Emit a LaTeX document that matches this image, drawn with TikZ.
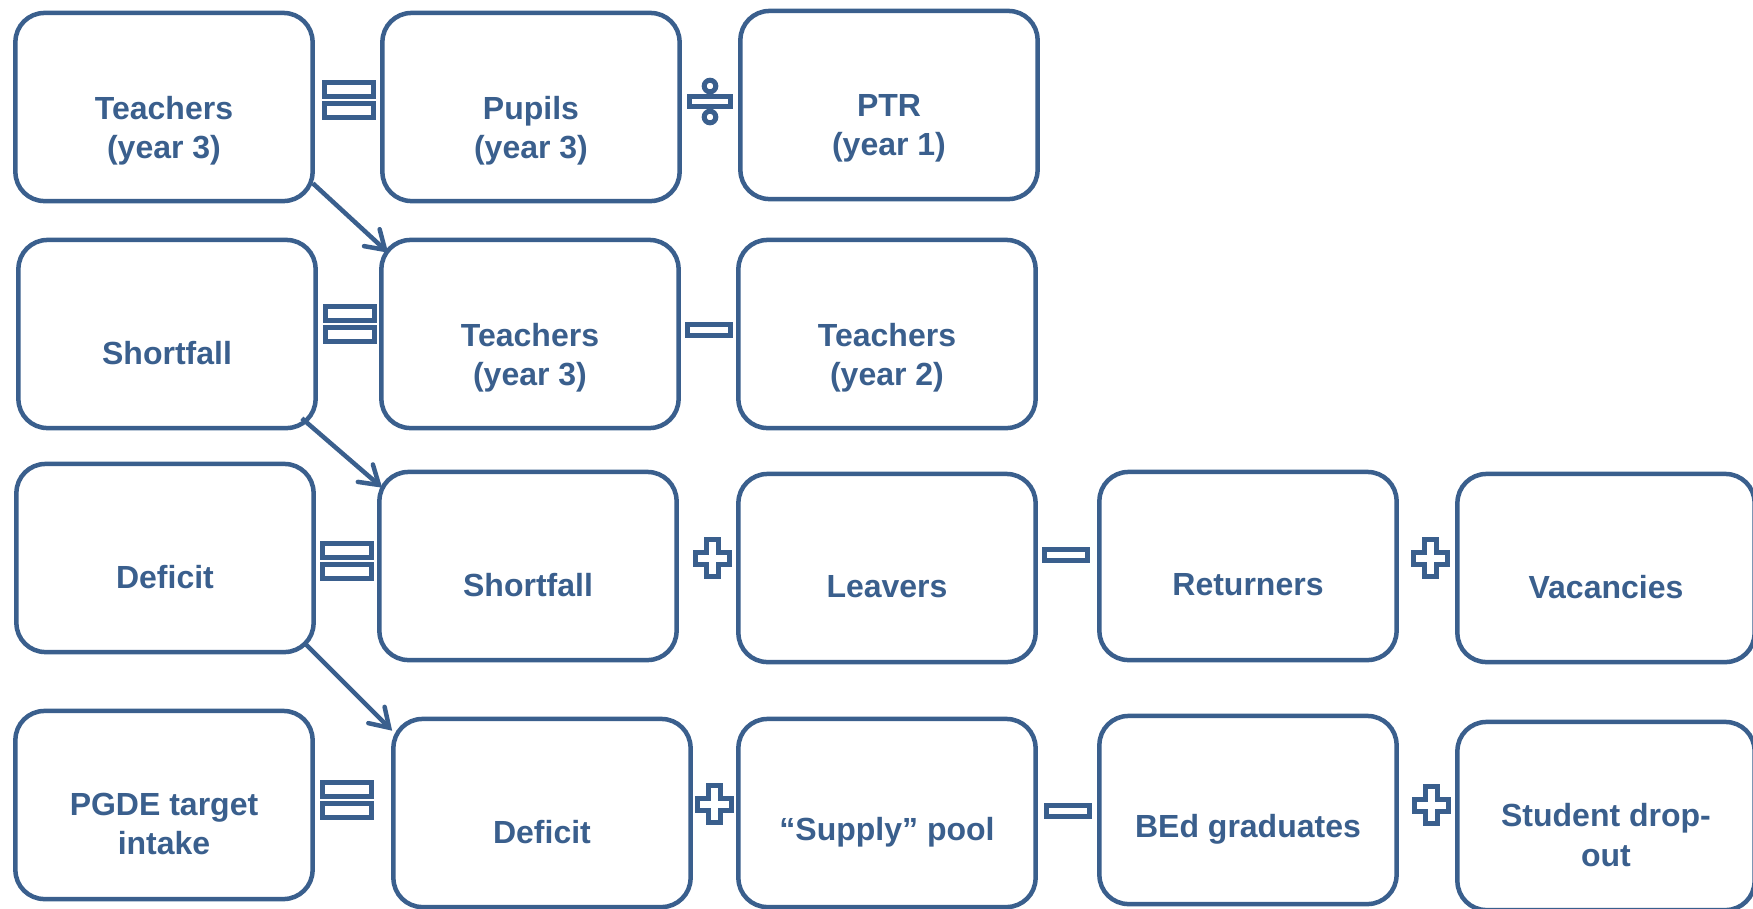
\documentclass[tikz,border=0pt]{standalone}
\usepackage{fontspec}
\setmainfont{Liberation Sans}
\usetikzlibrary{arrows.meta,calc}
\definecolor{bcol}{HTML}{3A5F8D}
\tikzset{
  box/.style={draw=bcol, fill=white, line width=0.045cm, rounded corners=0.29cm,
    minimum width=2.97cm, minimum height=1.88cm, inner sep=0pt},
  txt/.style={text=bcol, align=center, yshift=-0.19cm,
    font=\bfseries\fontsize{9.1}{11.2}\selectfont},
  low/.style={yshift=-0.045cm},
  op/.style={draw=bcol, fill=white, line width=0.05cm},
  arr/.style={draw=bcol, line width=0.045cm,
    -{Straight Barb[length=1.8mm,width=2.3mm,line cap=round]}},
  pics/eqop/.style={code={
    \draw[op] (-24.5,-17.5) rectangle (24.5,-3.5);
    \draw[op] (-24.5,3.5) rectangle (24.5,17.5);}},
  pics/minusop/.style={code={
    \draw[op] (-21.5,-5.5) rectangle (21.5,5.5);}},
  pics/plusop/.style={code={
    \draw[op] (-6,-18.5) -- (6,-18.5) -- (6,-6) -- (17,-6) -- (17,6) -- (6,6) -- (6,18.5)
      -- (-6,18.5) -- (-6,6) -- (-17,6) -- (-17,-6) -- (-6,-6) -- cycle;}},
  pics/divop/.style={code={
    \draw[op] (0,-15) circle[radius=5.8];
    \draw[op] (0,16) circle[radius=5.8];
    \draw[op] (-20.5,-5) rectangle (20.5,5);}}
}
\begin{document}
\begin{tikzpicture}[x=0.01cm, y=-0.01cm]
  \useasboundingbox (0,0) rectangle (1753,908);

  % teachers needed
  \node[box, label={[txt,low,name=A1t]center:{Teachers\\(year 3)}}] (A1) at (164,107) {};
  \node[box, label={[txt,low,name=A2t]center:{Pupils\\(year 3)}}] (A2) at (531,107) {};
  \node[box, label={[txt,low,name=A3t]center:{PTR\\(year 1)}}] (A3) at (889,105) {};
  \pic at (349,100) {eqop};
  \pic at (710,101) {divop};

  % shortfall
  \node[box, label={[txt,name=B1t]center:{Shortfall}}] (B1) at (167,334) {};
  \node[box, label={[txt,low,name=B2t]center:{Teachers\\(year 3)}}] (B2) at (530,334) {};
  \node[box, label={[txt,low,name=B3t]center:{Teachers\\(year 2)}}] (B3) at (887,334) {};
  \pic at (350,324) {eqop};
  \pic at (709,330) {minusop};

  % deficit
  \node[box, label={[txt,name=C1t]center:{Deficit}}] (C1) at (165,558) {};
  \node[box, label={[txt,name=C2t]center:{Shortfall}}] (C2) at (528,566) {};
  \node[box, label={[txt,name=C3t]center:{Leavers}}] (C3) at (887,568) {};
  \node[box, label={[txt,name=C4t]center:{Returners}}] (C4) at (1248,566) {};
  \node[box, label={[txt,name=C5t]center:{Vacancies}}] (C5) at (1606,568) {};
  \pic at (347,561) {eqop};
  \pic at (712,558) {plusop};
  \pic at (1066,555) {minusop};
  \pic at (1430,558) {plusop};

  % intake
  \node[box, label={[txt,name=D1t]center:{PGDE target\\intake}}] (D1) at (164,805) {};
  \node[box, label={[txt,name=D2t]center:{Deficit}}] (D2) at (542,813) {};
  \node[box, label={[txt,name=D3t]center:{``Supply'' pool}}] (D3) at (887,813) {};
  \node[box, label={[txt,name=D4t]center:{BEd graduates}}] (D4) at (1248,810) {};
  \node[box, label={[txt,name=D5t]center:{Student drop-\\out}}] (D5) at (1606,816) {};
  \pic at (347,800) {eqop};
  \pic at (714,804) {plusop};
  \pic at (1068,811) {minusop};
  \pic at (1431,805) {plusop};

  \draw[arr] ($(A1.south east)+(-2,-20)$) -- ($(B2.north west)+(9,15)$);
  \draw[arr] ($(B1.south east)+(-16,-12)$) -- ($(C2.north west)+(5,18)$);
  \draw[arr] ($(C1.south east)+(-11,-11)$) -- ($(D2.north west)+(1,14)$);
\end{tikzpicture}
\end{document}
